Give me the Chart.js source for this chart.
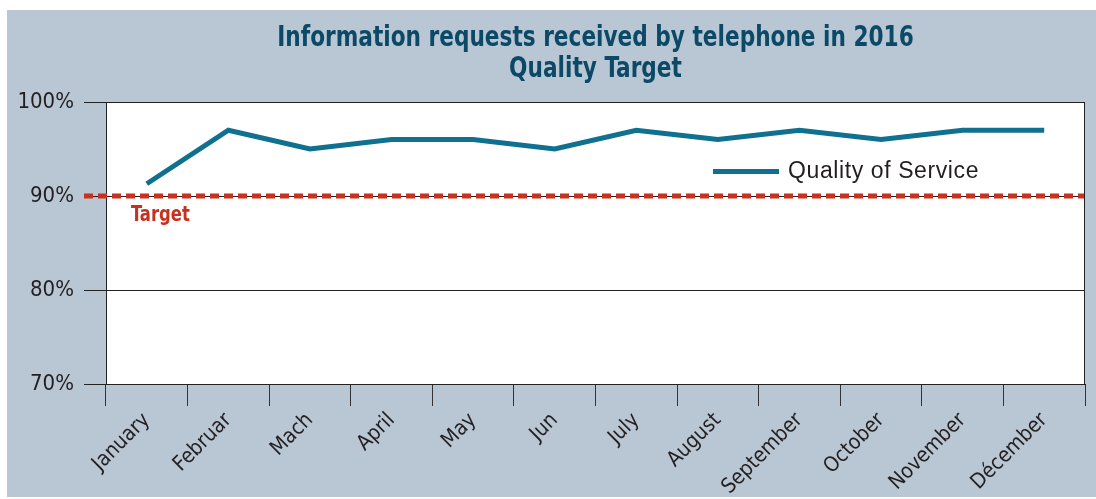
<!DOCTYPE html>
<html>
<head>
<meta charset="utf-8">
<script src="https://cdn.jsdelivr.net/npm/chart.js@4"></script>
<style>
  body { margin: 0; background: #fff; }
  #wrap { width: 1096px; height: 499px; }
</style>
</head>
<body>
<div id="wrap"><canvas id="qualityChart" width="1096" height="499"></canvas></div>
<script>
const months = ["January", "Februar", "Mach", "April", "May", "Jun", "July", "August", "September", "October", "November", "Décember"];
const qualityValues = [91.3, 97, 95, 96, 96, 95, 97, 96, 97, 96, 97, 97];
const yTicks = [70, 80, 90, 100];
const targetValue = 90;
const targetLabel = "Target";
const titleLines = ["Information requests received by telephone in 2016", "Quality Target"];

const narrow = "'Liberation Sans Narrow', 'DejaVu Sans Condensed', 'Liberation Sans', sans-serif";
const panelColor = "#b9c6d4";
const lineColor = "#10708f";
const targetColor = "#c8311d";
const titleColor = "#0b4966";

// background panel + white plot area + frame + title
const backdrop = {
  id: "backdrop",
  beforeDraw(chart) {
    const { ctx, chartArea: a } = chart;
    ctx.save();
    ctx.fillStyle = "#fff";
    ctx.fillRect(0, 0, chart.width, chart.height);
    ctx.fillStyle = panelColor;
    ctx.fillRect(7, 10, chart.width - 7, chart.height - 12);
    ctx.fillStyle = "#fff";
    ctx.fillRect(a.left, a.top, a.right - a.left, a.bottom - a.top);

    // title in a condensed face (squeezed horizontally)
    const cx = (a.left + a.right) / 2;
    ctx.fillStyle = titleColor;
    ctx.font = "bold 29px " + narrow;
    ctx.textAlign = "center";
    ctx.textBaseline = "middle";
    titleLines.forEach((t, i) => {
      ctx.save();
      ctx.translate(cx, 38 + i * 31);
      ctx.scale(0.83, 1);
      ctx.fillText(t, 0, 0);
      ctx.restore();
    });
    ctx.restore();
  },
  afterDraw(chart) {
    const { ctx, chartArea: a } = chart;
    ctx.save();
    ctx.strokeStyle = "#222";
    ctx.lineWidth = 1;
    ctx.beginPath();
    ctx.moveTo(a.left, a.top + 0.5);
    ctx.lineTo(a.right, a.top + 0.5);
    ctx.moveTo(a.right - 0.5, a.top);
    ctx.lineTo(a.right - 0.5, a.bottom);
    ctx.stroke();
    ctx.restore();
  }
};

// dashed target line, its label, and the in-plot legend
const extras = {
  id: "extras",
  afterDatasetsDraw(chart) {
    const { ctx, chartArea: a, scales } = chart;
    const y = scales.y.getPixelForValue(targetValue);
    ctx.save();
    ctx.strokeStyle = targetColor;
    ctx.lineWidth = 5;
    ctx.setLineDash([9, 5]);
    ctx.beginPath();
    ctx.moveTo(a.left - 22, y);
    ctx.lineTo(a.right, y);
    ctx.stroke();
    ctx.setLineDash([]);

    ctx.fillStyle = targetColor;
    ctx.font = "bold 21px " + narrow;
    ctx.textBaseline = "middle";
    ctx.save();
    ctx.translate(a.left + 25, y + 20);
    ctx.scale(0.87, 1);
    ctx.fillText(targetLabel, 0, 0);
    ctx.restore();

    // legend
    const ds = chart.data.datasets[0];
    const lx = a.left + 607, ly = scales.y.getPixelForValue(92.6);
    ctx.strokeStyle = ds.borderColor;
    ctx.lineWidth = 5;
    ctx.beginPath();
    ctx.moveTo(lx, ly);
    ctx.lineTo(lx + 66, ly);
    ctx.stroke();
    ctx.fillStyle = "#231f20";
    ctx.font = "23px 'Liberation Sans', Arial, sans-serif";
    ctx.letterSpacing = "0.6px";
    ctx.fillText(ds.label, lx + 75, ly);
    ctx.restore();
  }
};

new Chart(document.getElementById("qualityChart"), {
  type: "line",
  data: {
    labels: months,
    datasets: [{
      label: "Quality of Service",
      data: qualityValues,
      borderColor: lineColor,
      borderWidth: 5,
      pointRadius: 0,
      tension: 0,
      fill: false,
    }],
  },
  options: {
    responsive: false,
    animation: false,
    layout: { padding: { left: 7, right: 11, top: 102, bottom: 0 } },
    plugins: {
      legend: { display: false },
      tooltip: { enabled: false },
      title: { display: false },
    },
    scales: {
      x: {
        offset: true,
        grid: { offset: true, drawOnChartArea: false, tickLength: 22, color: "#333" },
        border: { color: "#222" },
        ticks: {
          autoSkip: false,
          maxRotation: 45,
          minRotation: 45,
          padding: 2,
          color: "#231f20",
          font: { family: narrow, size: 21 },
        },
        afterFit(scale) { scale.height = 115; },
      },
      y: {
        min: 70,
        max: 100,
        afterBuildTicks(scale) { scale.ticks = yTicks.map(v => ({ value: v })); },
        grid: { color: "#222", tickLength: 22 },
        border: { color: "#222" },
        ticks: {
          padding: 10,
          color: "#231f20",
          font: { family: narrow, size: 22 },
          callback: v => v + "%",
        },
        afterFit(scale) { scale.width = 99; },
      },
    },
  },
  plugins: [backdrop, extras],
});
</script>
</body>
</html>
